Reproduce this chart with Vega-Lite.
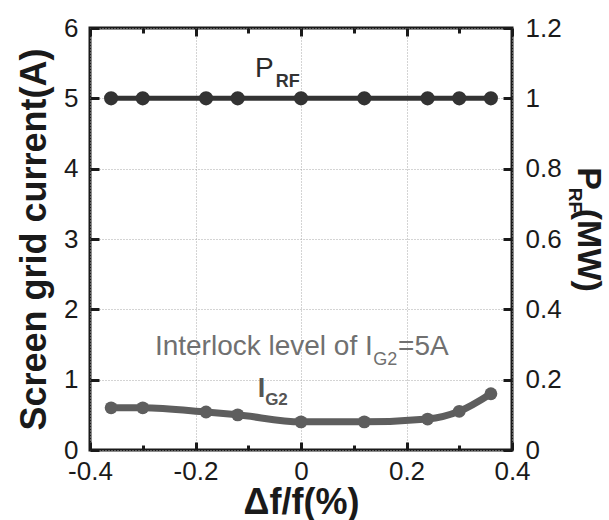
{
  "$schema": "https://vega.github.io/schema/vega-lite/v6.json",
  "autosize": "none",
  "width": 422,
  "height": 422,
  "padding": {"left": 90, "top": 28, "right": 97, "bottom": 70},
  "background": "white",
  "config": {
    "view": {"stroke": "#1a1a1a", "strokeWidth": 3},
    "font": "Liberation Sans",
    "axis": {
      "labelFont": "Liberation Sans",
      "labelFontSize": 26,
      "labelColor": "#1a1a1a",
      "titleFont": "Liberation Sans",
      "titleFontSize": 36,
      "titleFontWeight": "bold",
      "titleColor": "#1a1a1a",
      "domain": false,
      "tickColor": "#1a1a1a",
      "tickWidth": 3,
      "labelOverlap": false,
      "labelFlush": false,
      "gridColor": "#a8a8a8",
      "gridDash": [1, 2],
      "gridWidth": 1,
      "zindex": 1
    }
  },
  "datasets": {
    "series": [
      {"df": -0.36, "ig2": 0.6, "prf": 1},
      {"df": -0.3, "ig2": 0.6, "prf": 1},
      {"df": -0.18, "ig2": 0.54, "prf": 1},
      {"df": -0.12, "ig2": 0.5, "prf": 1},
      {"df": 0, "ig2": 0.4, "prf": 1},
      {"df": 0.12, "ig2": 0.4, "prf": 1},
      {"df": 0.24, "ig2": 0.44, "prf": 1},
      {"df": 0.3, "ig2": 0.55, "prf": 1},
      {"df": 0.36, "ig2": 0.8, "prf": 1}
    ],
    "notes": [
      {"x": -0.087, "y": 5.30, "text": "P", "role": "prf_main"},
      {"x": -0.048, "y": 5.16, "text": "RF", "role": "prf_sub"},
      {"x": -0.277, "y": 1.35, "text": "Interlock level of I", "role": "lock_main"},
      {"x": 0.137, "y": 1.21, "text": "G2", "role": "lock_sub"},
      {"x": 0.184, "y": 1.35, "text": "=5A", "role": "lock_main"},
      {"x": -0.082, "y": 0.75, "text": "I", "role": "ig_main"},
      {"x": -0.068, "y": 0.64, "text": "G2", "role": "ig_sub"},
      {"x": 0.525, "y": 4.02, "text": "P", "role": "rt_main"},
      {"x": 0.509, "y": 3.73, "text": "RF", "role": "rt_sub"},
      {"x": 0.525, "y": 3.43, "text": "(MW)", "role": "rt_main"}
    ]
  },
  "resolve": {
    "scale": {"y": "independent"},
    "axis": {"x": "independent", "y": "independent"}
  },
  "layer": [
    {
      "data": {"name": "series"},
      "mark": {"type": "line", "interpolate": "monotone", "color": "#5e5e5e", "strokeWidth": 7},
      "encoding": {
        "x": {
          "field": "df", "type": "quantitative",
          "scale": {"domain": [-0.4, 0.4], "nice": false, "zero": false},
          "axis": {
            "orient": "bottom", "values": [-0.4, -0.2, 0, 0.2, 0.4],
            "labelExpr": "replace(format(datum.value, '.1~f'), '\u2212', '-')",
            "ticks": true, "tickSize": -8, "tickColor": "#1a1a1a", "labelPadding": 16, "grid": true,
            "title": "Δf/f(%)", "titlePadding": 1
          }
        },
        "y": {
          "field": "ig2", "type": "quantitative",
          "scale": {"domain": [0, 6], "nice": false},
          "axis": {
            "orient": "left", "values": [0, 1, 2, 3, 4, 5, 6],
            "ticks": true, "tickSize": -9, "tickColor": "#1a1a1a", "labelPadding": 21, "grid": true,
            "title": "Screen grid current(A)", "titlePadding": 10
          }
        }
      }
    },
    {
      "data": {"name": "series"},
      "mark": {"type": "circle", "size": 165, "opacity": 1, "color": "#5e5e5e"},
      "encoding": {
        "x": {
          "field": "df", "type": "quantitative",
          "scale": {"domain": [-0.4, 0.4], "nice": false, "zero": false},
          "axis": {
            "orient": "top", "values": [-0.4, -0.2, 0, 0.2, 0.4],
            "ticks": true, "tickSize": -8, "tickColor": "#1a1a1a", "labels": false, "grid": false, "title": null
          }
        },
        "y": {
          "field": "ig2", "type": "quantitative",
          "scale": {"domain": [0, 6], "nice": false},
          "axis": null
        }
      }
    },
    {
      "data": {"name": "series"},
      "mark": {"type": "line", "color": "#333333", "strokeWidth": 5},
      "encoding": {
        "x": {
          "field": "df", "type": "quantitative",
          "scale": {"domain": [-0.4, 0.4], "nice": false, "zero": false},
          "axis": {
            "orient": "bottom", "values": [-0.3, -0.1, 0.1, 0.3],
            "ticks": true, "tickSize": -5, "tickColor": "#1a1a1a", "labels": false, "grid": false, "title": null
          }
        },
        "y": {
          "field": "prf", "type": "quantitative",
          "scale": {"domain": [0, 1.2], "nice": false},
          "axis": {
            "orient": "right", "values": [0, 0.2, 0.4, 0.6, 0.8, 1, 1.2],
            "format": ".1~f",
            "ticks": true, "tickSize": -9, "tickColor": "#1a1a1a", "labelPadding": 22, "grid": false, "title": null
          }
        }
      }
    },
    {
      "data": {"name": "series"},
      "mark": {"type": "circle", "size": 200, "opacity": 1, "color": "#333333"},
      "encoding": {
        "x": {
          "field": "df", "type": "quantitative",
          "scale": {"domain": [-0.4, 0.4], "nice": false, "zero": false},
          "axis": {
            "orient": "top", "values": [-0.3, -0.1, 0.1, 0.3],
            "ticks": true, "tickSize": -5, "tickColor": "#1a1a1a", "labels": false, "grid": false, "title": null
          }
        },
        "y": {
          "field": "prf", "type": "quantitative",
          "scale": {"domain": [0, 1.2], "nice": false},
          "axis": null
        }
      }
    },
    {
      "data": {"name": "notes"},
      "transform": [{"filter": "datum.role == 'prf_main'"}],
      "mark": {"type": "text", "align": "left", "baseline": "alphabetic", "fontSize": 28, "color": "#2a2a2a", "font": "Liberation Sans"},
      "encoding": {
        "x": {"field": "x", "type": "quantitative", "scale": {"domain": [-0.4, 0.4], "nice": false, "zero": false}, "axis": null},
        "y": {"field": "y", "type": "quantitative", "scale": {"domain": [0, 6], "nice": false}, "axis": null},
        "text": {"field": "text"}
      }
    },
    {
      "data": {"name": "notes"},
      "transform": [{"filter": "datum.role == 'prf_sub'"}],
      "mark": {"type": "text", "align": "left", "baseline": "alphabetic", "fontSize": 18, "fontWeight": "bold", "color": "#333333", "font": "Liberation Sans"},
      "encoding": {
        "x": {"field": "x", "type": "quantitative", "scale": {"domain": [-0.4, 0.4], "nice": false, "zero": false}, "axis": null},
        "y": {"field": "y", "type": "quantitative", "scale": {"domain": [0, 6], "nice": false}, "axis": null},
        "text": {"field": "text"}
      }
    },
    {
      "data": {"name": "notes"},
      "transform": [{"filter": "datum.role == 'lock_main'"}],
      "mark": {"type": "text", "align": "left", "baseline": "alphabetic", "fontSize": 28, "color": "#707070", "font": "Liberation Sans"},
      "encoding": {
        "x": {"field": "x", "type": "quantitative", "scale": {"domain": [-0.4, 0.4], "nice": false, "zero": false}, "axis": null},
        "y": {"field": "y", "type": "quantitative", "scale": {"domain": [0, 6], "nice": false}, "axis": null},
        "text": {"field": "text"}
      }
    },
    {
      "data": {"name": "notes"},
      "transform": [{"filter": "datum.role == 'lock_sub'"}],
      "mark": {"type": "text", "align": "left", "baseline": "alphabetic", "fontSize": 18, "color": "#707070", "font": "Liberation Sans"},
      "encoding": {
        "x": {"field": "x", "type": "quantitative", "scale": {"domain": [-0.4, 0.4], "nice": false, "zero": false}, "axis": null},
        "y": {"field": "y", "type": "quantitative", "scale": {"domain": [0, 6], "nice": false}, "axis": null},
        "text": {"field": "text"}
      }
    },
    {
      "data": {"name": "notes"},
      "transform": [{"filter": "datum.role == 'ig_main'"}],
      "mark": {"type": "text", "align": "left", "baseline": "alphabetic", "fontSize": 27, "fontWeight": "bold", "color": "#555555", "font": "Liberation Sans"},
      "encoding": {
        "x": {"field": "x", "type": "quantitative", "scale": {"domain": [-0.4, 0.4], "nice": false, "zero": false}, "axis": null},
        "y": {"field": "y", "type": "quantitative", "scale": {"domain": [0, 6], "nice": false}, "axis": null},
        "text": {"field": "text"}
      }
    },
    {
      "data": {"name": "notes"},
      "transform": [{"filter": "datum.role == 'ig_sub'"}],
      "mark": {"type": "text", "align": "left", "baseline": "alphabetic", "fontSize": 17, "fontWeight": "bold", "color": "#555555", "font": "Liberation Sans"},
      "encoding": {
        "x": {"field": "x", "type": "quantitative", "scale": {"domain": [-0.4, 0.4], "nice": false, "zero": false}, "axis": null},
        "y": {"field": "y", "type": "quantitative", "scale": {"domain": [0, 6], "nice": false}, "axis": null},
        "text": {"field": "text"}
      }
    },
    {
      "data": {"name": "notes"},
      "transform": [{"filter": "datum.role == 'rt_main'"}],
      "mark": {"type": "text", "align": "left", "baseline": "alphabetic", "angle": 90, "fontSize": 34, "fontWeight": "bold", "color": "#1a1a1a", "font": "Liberation Sans"},
      "encoding": {
        "x": {"field": "x", "type": "quantitative", "scale": {"domain": [-0.4, 0.4], "nice": false, "zero": false}, "axis": null},
        "y": {"field": "y", "type": "quantitative", "scale": {"domain": [0, 6], "nice": false}, "axis": null},
        "text": {"field": "text"}
      }
    },
    {
      "data": {"name": "notes"},
      "transform": [{"filter": "datum.role == 'rt_sub'"}],
      "mark": {"type": "text", "align": "left", "baseline": "alphabetic", "angle": 90, "fontSize": 19, "fontWeight": "bold", "color": "#1a1a1a", "font": "Liberation Sans"},
      "encoding": {
        "x": {"field": "x", "type": "quantitative", "scale": {"domain": [-0.4, 0.4], "nice": false, "zero": false}, "axis": null},
        "y": {"field": "y", "type": "quantitative", "scale": {"domain": [0, 6], "nice": false}, "axis": null},
        "text": {"field": "text"}
      }
    }
  ]
}
